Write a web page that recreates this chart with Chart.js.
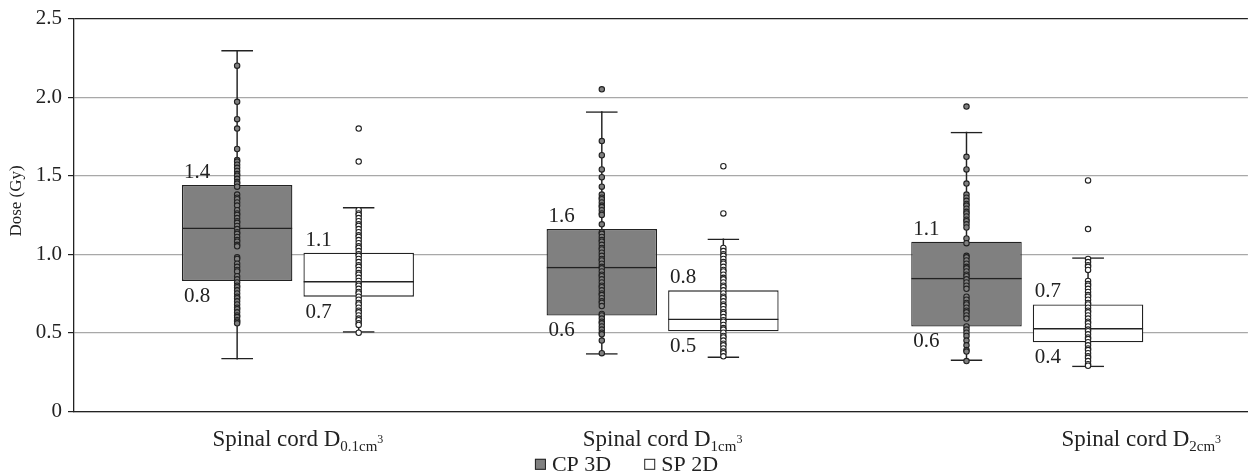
<!DOCTYPE html>
<html><head><meta charset="utf-8">
<script src="https://cdn.jsdelivr.net/npm/chart.js@4.4.1/dist/chart.umd.min.js"></script>
<style>html,body{margin:0;padding:0;background:#fff;overflow:hidden}canvas{display:block}</style>
</head><body>
<canvas id="c" width="1253" height="475"></canvas>
<script>
// ---------- data ----------
const CATEGORY_MAIN = ['Spinal cord D', 'Spinal cord D', 'Spinal cord D'];
const CATEGORY_SUB = ['0.1cm', '1cm', '2cm'];
const CATEGORY_SUP = ['3', '3', '3'];
const SERIES_NAMES = ['CP 3D', 'SP 2D'];
const Y_TITLE = 'Dose (Gy)';
const Y_TICK_VALUES = [0, 0.5, 1.0, 1.5, 2.0, 2.5];
const Y_TICK_LABELS = ['0', '0.5', '1.0', '1.5', '2.0', '2.5'];

const CP_MIN = [0.33, 0.36, 0.32];
const CP_Q1 = [0.83, 0.61, 0.54];
const CP_MEDIAN = [1.17, 0.92, 0.85];
const CP_Q3 = [1.44, 1.16, 1.08];
const CP_MAX = [2.30, 1.91, 1.78];

const SP_MIN = [0.50, 0.34, 0.28];
const SP_Q1 = [0.73, 0.51, 0.44];
const SP_MEDIAN = [0.83, 0.59, 0.53];
const SP_Q3 = [1.01, 0.77, 0.68];
const SP_MAX = [1.30, 1.10, 0.98];

const CP_TOP_LABELS = ['1.4', '1.6', '1.1'];
const CP_BOTTOM_LABELS = ['0.8', '0.6', '0.6'];
const SP_TOP_LABELS = ['1.1', '0.8', '0.7'];
const SP_BOTTOM_LABELS = ['0.7', '0.5', '0.4'];

const CP_DOTS_1 = [2.20, 1.97, 1.86, 1.80, 1.67, 1.60, 1.59, 1.57, 1.55, 1.53, 1.51, 1.50, 1.48, 1.46, 1.45, 1.43,
  1.38, 1.36, 1.35, 1.33, 1.31, 1.28, 1.26, 1.25, 1.23, 1.21, 1.20, 1.18, 1.16, 1.14, 1.13, 1.11, 1.09, 1.08, 1.06, 1.05,
  0.98, 0.97, 0.94, 0.92, 0.90, 0.89, 0.86, 0.84, 0.82, 0.80, 0.79, 0.77, 0.75, 0.73, 0.72, 0.70, 0.68, 0.66, 0.65,
  0.63, 0.61, 0.60, 0.58, 0.57, 0.56];
const CP_DOTS_2 = [2.05, 1.72, 1.63, 1.54, 1.49, 1.43, 1.38, 1.36, 1.35, 1.33, 1.31, 1.30, 1.28, 1.26, 1.25, 1.19,
  1.14, 1.13, 1.11, 1.09, 1.08, 1.06, 1.04, 1.03, 1.01, 0.99, 0.97, 0.96, 0.94, 0.92, 0.91, 0.89, 0.87, 0.86, 0.84,
  0.82, 0.80, 0.79, 0.77, 0.75, 0.74, 0.72, 0.70, 0.69, 0.67, 0.62, 0.61, 0.59, 0.57, 0.56, 0.54, 0.52, 0.50, 0.49,
  0.45, 0.37];
const CP_DOTS_3 = [1.94, 1.62, 1.54, 1.45, 1.38, 1.36, 1.34, 1.32, 1.31, 1.29, 1.27, 1.26, 1.24, 1.22, 1.21, 1.19,
  1.17, 1.10, 1.07, 0.99, 0.98, 0.96, 0.94, 0.92, 0.91, 0.89, 0.87, 0.86, 0.84, 0.82, 0.80, 0.78, 0.73, 0.71, 0.69,
  0.68, 0.66, 0.64, 0.63, 0.61, 0.59, 0.54, 0.52, 0.50, 0.48, 0.45, 0.42, 0.39, 0.38, 0.32];
const SP_DOTS_1 = [1.80, 1.59, 1.28, 1.26, 1.25, 1.23, 1.21, 1.19, 1.18, 1.16, 1.14, 1.12, 1.11, 1.09, 1.07, 1.05,
  1.04, 1.02, 1.00, 0.99, 0.97, 0.95, 0.93, 0.92, 0.90, 0.88, 0.87, 0.85, 0.83, 0.81, 0.80, 0.78, 0.76, 0.75, 0.73,
  0.71, 0.69, 0.68, 0.66, 0.64, 0.63, 0.61, 0.59, 0.58, 0.56, 0.55, 0.50];
const SP_DOTS_2 = [1.56, 1.26, 1.04, 1.02, 1.00, 0.99, 0.97, 0.95, 0.94, 0.92, 0.90, 0.89, 0.87, 0.85, 0.84, 0.82,
  0.80, 0.79, 0.77, 0.75, 0.73, 0.72, 0.70, 0.68, 0.67, 0.65, 0.63, 0.62, 0.60, 0.58, 0.57, 0.55, 0.53, 0.52, 0.50,
  0.48, 0.47, 0.45, 0.43, 0.42, 0.40, 0.38, 0.37, 0.35];
const SP_DOTS_3 = [1.47, 1.16, 0.97, 0.95, 0.93, 0.92, 0.90, 0.83, 0.81, 0.80, 0.78, 0.76, 0.74, 0.73, 0.71, 0.69,
  0.68, 0.66, 0.64, 0.63, 0.61, 0.59, 0.57, 0.56, 0.54, 0.52, 0.51, 0.49, 0.47, 0.46, 0.44, 0.42, 0.40, 0.39, 0.37,
  0.35, 0.34, 0.32, 0.30, 0.29];

// ---------- layout / style ----------
const GROUP_POS = [1, 2, 3];
const SERIES_OFFSET = [-1 / 6, 1 / 6];
const X_MIN = 0.386, X_MAX = 3.605;
const CATEGORY_SHIFT_PX = [0, 0, 114];
const FONT = "'Liberation Serif', 'Times New Roman', serif";
const DARK = '#222222';
const GRID = '#a8a8a8';
const FILLS = ['#808080', '#ffffff'];

const CP_DOTS = [CP_DOTS_1, CP_DOTS_2, CP_DOTS_3];
const SP_DOTS = [SP_DOTS_1, SP_DOTS_2, SP_DOTS_3];

function seriesDatasets(si, mins, q1, med, q3, maxs, dots) {
  const pos = GROUP_POS.map(g => g + SERIES_OFFSET[si]);
  const range = (a, b) => a.map((v, i) => ({x: pos[i], y: [v, b[i]]}));
  const name = SERIES_NAMES[si];
  const common = {type: 'bar', grouped: false, categoryPercentage: 1, borderSkipped: false};
  const points = [];
  dots.forEach((arr, i) => arr.forEach(v => points.push({x: pos[i], y: v})));
  return [
    Object.assign({}, common, {label: name + ' whisker', data: range(mins, maxs), backgroundColor: DARK,
      borderWidth: 0, barPercentage: 0.012, order: 4}),
    Object.assign({}, common, {label: name + ' max', data: range(q3, maxs), backgroundColor: 'rgba(0,0,0,0)',
      borderColor: DARK, borderWidth: {top: 1.5, right: 0, bottom: 0, left: 0}, barPercentage: 0.262, order: 3}),
    Object.assign({}, common, {label: name + ' min', data: range(mins, q1), backgroundColor: 'rgba(0,0,0,0)',
      borderColor: DARK, borderWidth: {top: 0, right: 0, bottom: 1.5, left: 0}, barPercentage: 0.262, order: 3}),
    Object.assign({}, common, {label: name, data: range(q1, q3), backgroundColor: FILLS[si],
      borderColor: DARK, borderWidth: 1.3, barPercentage: 0.909, order: 2}),
    Object.assign({}, common, {label: name + ' median', data: range(q1, med), backgroundColor: 'rgba(0,0,0,0)',
      borderColor: DARK, borderWidth: {top: 1.5, right: 0, bottom: 0, left: 0}, barPercentage: 0.909, order: 1}),
    {type: 'scatter', label: name + ' points', data: points, pointRadius: 2.7, pointBorderWidth: 1.1,
      pointBackgroundColor: FILLS[si], pointBorderColor: DARK, showLine: false, order: 0}
  ];
}

const datasets = [].concat(
  seriesDatasets(0, CP_MIN, CP_Q1, CP_MEDIAN, CP_Q3, CP_MAX, CP_DOTS),
  seriesDatasets(1, SP_MIN, SP_Q1, SP_MEDIAN, SP_Q3, SP_MAX, SP_DOTS)
);

const BOX_LABELS = [
  {name: SERIES_NAMES[0], top: CP_TOP_LABELS, bottom: CP_BOTTOM_LABELS},
  {name: SERIES_NAMES[1], top: SP_TOP_LABELS, bottom: SP_BOTTOM_LABELS}
];

const boxLabelPlugin = {
  id: 'boxLabels',
  afterDatasetsDraw(chart) {
    const ctx = chart.ctx;
    ctx.save();
    ctx.font = '21px ' + FONT;
    ctx.fillStyle = DARK;
    ctx.textAlign = 'left';
    ctx.textBaseline = 'alphabetic';
    BOX_LABELS.forEach(spec => {
      const di = chart.data.datasets.findIndex(d => d.label === spec.name);
      const meta = chart.getDatasetMeta(di);
      meta.data.forEach((el, i) => {
        const left = el.x - el.width / 2;
        const top = Math.min(el.y, el.base);
        const bot = Math.max(el.y, el.base);
        ctx.fillText(spec.top[i], left + 2, top - 7);
        ctx.fillText(spec.bottom[i], left + 2, bot + 21);
      });
    });
    ctx.restore();
  }
};

const textPlugin = {
  id: 'categoryLabels',
  afterDraw(chart) {
    const ctx = chart.ctx;
    const xs = chart.scales.x;
    const area = chart.chartArea;
    const base = area.bottom + 35;
    ctx.save();
    ctx.fillStyle = DARK;
    ctx.textBaseline = 'alphabetic';
    ctx.textAlign = 'left';
    GROUP_POS.forEach((g, i) => {
      const parts = [
        {t: CATEGORY_MAIN[i], size: 23, dy: 0},
        {t: CATEGORY_SUB[i], size: 15, dy: 5},
        {t: CATEGORY_SUP[i], size: 12, dy: -3}
      ];
      let total = 0;
      parts.forEach(p => { ctx.font = p.size + 'px ' + FONT; p.w = ctx.measureText(p.t).width; total += p.w; });
      let x = xs.getPixelForValue(g) + CATEGORY_SHIFT_PX[i] - total / 2;
      parts.forEach(p => { ctx.font = p.size + 'px ' + FONT; ctx.fillText(p.t, x, base + p.dy); x += p.w; });
    });
    // y-axis title
    ctx.save();
    ctx.font = '17px ' + FONT;
    ctx.textAlign = 'center';
    ctx.textBaseline = 'middle';
    ctx.translate(17, (area.top + area.bottom) / 2 - 14);
    ctx.rotate(-Math.PI / 2);
    ctx.fillText(Y_TITLE, 0, 0);
    ctx.restore();
    // legend
    const ly = area.bottom + 53;
    ctx.font = '22px ' + FONT;
    const box = 11, gap = 6, itemGap = 33;
    const widths = SERIES_NAMES.map(n => ctx.measureText(n).width);
    const totalW = widths.reduce((a, w) => a + box + gap + w, 0) + itemGap;
    let lx = chart.width / 2 - totalW / 2;
    SERIES_NAMES.forEach((n, i) => {
      ctx.fillStyle = FILLS[i];
      ctx.fillRect(lx, ly - box / 2, box, box);
      ctx.strokeStyle = DARK;
      ctx.lineWidth = 1;
      ctx.strokeRect(lx + 0.5, ly - box / 2 + 0.5, box - 1, box - 1);
      ctx.fillStyle = DARK;
      ctx.textBaseline = 'middle';
      ctx.fillText(n, lx + box + gap, ly + 1);
      lx += box + gap + widths[i] + itemGap;
    });
    ctx.restore();
  }
};

new Chart(document.getElementById('c'), {
  type: 'bar',
  data: {datasets},
  options: {
    responsive: false,
    animation: false,
    devicePixelRatio: 1,
    layout: {padding: {top: 5, right: 0, bottom: 0, left: 0}},
    plugins: {legend: {display: false}, tooltip: {enabled: false}},
    scales: {
      x: {
        type: 'linear', min: X_MIN, max: X_MAX, offset: false,
        ticks: {display: false},
        grid: {display: false},
        border: {display: true, color: DARK, width: 1.3},
        afterBuildTicks: s => { s.ticks = GROUP_POS.map(v => ({value: v})); },
        afterFit: s => { s.height = 63.7; }
      },
      y: {
        type: 'linear', min: 0, max: 2.5,
        afterBuildTicks: s => { s.ticks = Y_TICK_VALUES.map(v => ({value: v})); },
        ticks: {font: {family: FONT, size: 21}, color: DARK, padding: 6,
          callback: (v, i) => Y_TICK_LABELS[i]},
        grid: {color: c => (c.tick && c.tick.value === 2.5) ? DARK : GRID, lineWidth: 1.2,
          tickLength: 6, tickColor: DARK, tickWidth: 1.2},
        border: {display: true, color: DARK, width: 1.3},
        title: {display: false},
        afterFit: s => { s.width = 74; }
      }
    }
  },
  plugins: [boxLabelPlugin, textPlugin]
});
</script>
</body></html>
